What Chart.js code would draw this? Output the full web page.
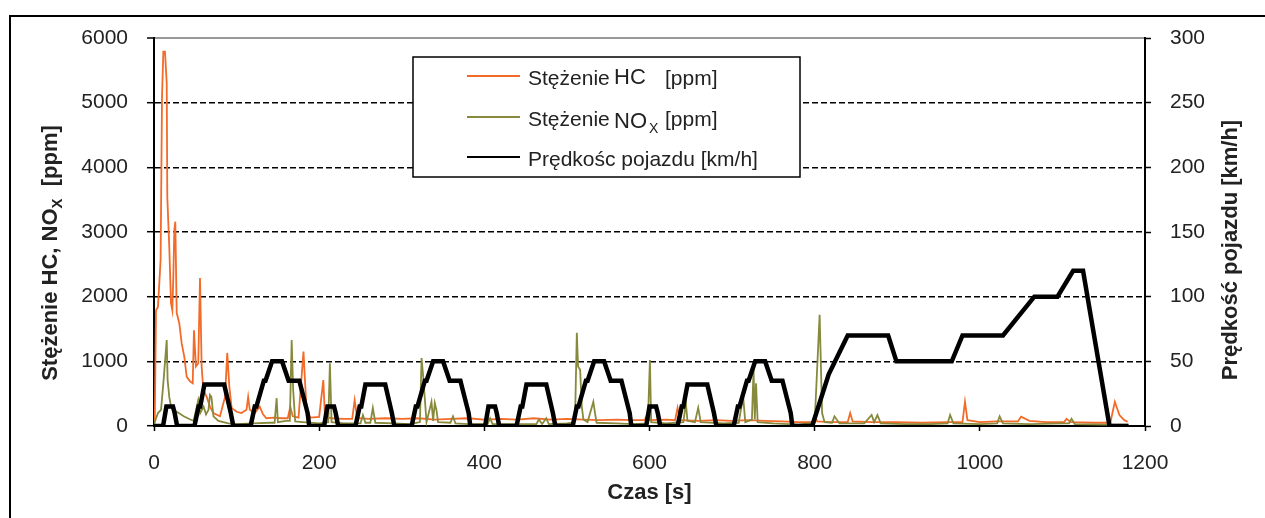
<!DOCTYPE html>
<html>
<head>
<meta charset="utf-8">
<script src="https://cdn.jsdelivr.net/npm/chart.js@4.4.0/dist/chart.umd.min.js"></script>
<style>
body { margin: 0; background: #fff; }
canvas { display: block; }
</style>
</head>
<body>
<canvas id="emissionsChart" width="1265" height="518"></canvas>
<script>
// Values (time in s)
const xTicks = [0, 200, 400, 600, 800, 1000, 1200];
const ppmTicks = [0, 1000, 2000, 3000, 4000, 5000, 6000];
const kmhTicks = [0, 50, 100, 150, 200, 250, 300];

const speedTime = [
    0, 11, 15, 23, 25, 28, 49, 54, 56, 61, 85, 93, 96, 117, 122, 124, 133, 135, 143, 155, 163, 176, 186, 188,
    195, 206, 210, 218, 220, 223, 244, 249, 251, 256, 280, 288, 291, 312, 317, 319, 328, 330, 338, 350, 358, 371, 381, 383,
    390, 401, 405, 413, 415, 418, 439, 444, 446, 451, 475, 483, 486, 507, 512, 514, 523, 525, 533, 545, 553, 566, 576, 578,
    585, 596, 600, 608, 610, 613, 634, 639, 641, 646, 670, 678, 681, 702, 707, 709, 718, 720, 728, 740, 748, 761, 771, 773,
    780, 797, 817, 840, 889, 899, 966, 979, 1028, 1066, 1094, 1113, 1125, 1157, 1180
];
const speedKmh = [
    0, 0, 15, 15, 10, 0, 0, 15, 15, 32, 32, 10, 0, 0, 15, 15, 35, 35, 50, 50, 35, 35, 10, 0,
    0, 0, 15, 15, 10, 0, 0, 15, 15, 32, 32, 10, 0, 0, 15, 15, 35, 35, 50, 50, 35, 35, 10, 0,
    0, 0, 15, 15, 10, 0, 0, 15, 15, 32, 32, 10, 0, 0, 15, 15, 35, 35, 50, 50, 35, 35, 10, 0,
    0, 0, 15, 15, 10, 0, 0, 15, 15, 32, 32, 10, 0, 0, 15, 15, 35, 35, 50, 50, 35, 35, 10, 0,
    0, 0, 40, 70, 70, 50, 50, 70, 70, 100, 100, 120, 120, 0, 0
];

const hcTime = [
    0, 1, 2.4, 4.8, 8, 9.7, 11.3, 13.3, 15.4, 16.1,
    18.5, 20.6, 22.2, 23.4, 24.6, 25.8, 27.5, 30.6, 33.5, 36.7,
    39.6, 43.6, 46.9, 48.4, 50.8, 53.6, 55.7, 57.7, 59.7, 63.8,
    67.8, 71.8, 79.9, 86, 88.7, 91.2, 94, 100, 106, 112,
    114, 116, 122, 128, 132, 136, 145, 155, 162, 165,
    168, 175, 181, 183, 185, 190, 200, 205, 207, 215,
    230, 240, 243, 246, 260, 280, 300, 320, 340, 360,
    380, 400, 420, 440, 460, 480, 500, 520, 540, 560,
    580, 594, 597, 600, 620, 631, 634, 637, 660, 680,
    700, 720, 740, 760, 780, 797, 800, 803, 820, 840,
    843, 846, 870, 900, 930, 960, 979, 982, 985, 1000,
    1020, 1046, 1050, 1060, 1080, 1102, 1105, 1110, 1140, 1158,
    1163.5, 1169, 1175, 1179
];
const hcPpm = [
    80, 150, 1790, 1840, 2570, 5090, 5790, 5790, 5300, 3540,
    2770, 1900, 1790, 2310, 3030, 3160, 1750, 1590, 1280, 1070,
    760, 690, 660, 1480, 920, 970, 2290, 920, 560, 450,
    300, 200, 150, 450, 1130, 610, 280, 220, 200, 250,
    450, 250, 200, 300, 180, 120, 130, 120, 120, 300,
    150, 130, 1150, 660, 200, 130, 140, 710, 150, 120,
    110, 110, 400, 120, 110, 120, 110, 120, 100, 110,
    120, 100, 110, 100, 120, 100, 110, 100, 90, 100,
    90, 90, 170, 90, 100, 90, 280, 90, 80, 90,
    80, 90, 80, 70, 60, 60, 170, 70, 60, 60,
    200, 70, 60, 60, 50, 60, 60, 375, 90, 60,
    70, 70, 145, 80, 60, 60, 110, 60, 50, 50,
    375, 170, 90, 65
];

const noxTime = [
    0, 2, 4.8, 8.5, 11.3, 15.4, 16.5, 18.5, 20.6, 23,
    30, 36, 44, 48, 53.6, 56, 60, 63, 66, 67.8,
    69.5, 72, 78, 90, 100, 120, 140, 146, 148.5, 150,
    160, 164.5, 166.7, 168.5, 171, 180, 200, 211, 213, 215,
    230, 250, 253, 256, 262, 265, 268, 290, 310, 322,
    324, 326, 330, 336, 338, 340, 342, 344, 359, 362,
    365, 380, 404, 407, 410, 440, 463, 466, 470, 475,
    478, 500, 508, 510, 512, 513.5, 516, 518, 520, 525,
    532, 534, 536, 560, 580, 598, 600.5, 602, 620, 641,
    644, 646, 655, 659, 662, 690, 708, 710, 713.4, 716,
    724, 726, 727.5, 729, 731, 750, 780, 800, 806, 809,
    812, 821, 824, 830, 860, 869, 872, 876, 880, 910,
    940, 961, 964, 968, 1000, 1021, 1024, 1028, 1060, 1100,
    1108, 1111, 1115, 1150, 1180
];
const noxPpm = [
    20, 100, 200, 250, 660, 1330, 710, 450, 300, 250,
    200, 150, 100, 80, 400, 200, 300, 180, 250, 480,
    450, 150, 80, 40, 30, 40, 50, 50, 430, 60,
    80, 80, 1330, 560, 70, 60, 40, 60, 970, 60,
    40, 40, 170, 50, 50, 280, 50, 40, 30, 60,
    1050, 760, 60, 375, 80, 355, 250, 60, 50, 150,
    40, 30, 30, 120, 30, 30, 30, 100, 30, 120,
    30, 40, 50, 200, 1440, 920, 870, 300, 100, 60,
    375, 200, 50, 40, 30, 40, 1020, 60, 40, 60,
    355, 80, 60, 280, 60, 40, 50, 200, 450, 60,
    100, 870, 100, 660, 60, 40, 20, 50, 1720, 200,
    60, 50, 150, 40, 40, 170, 60, 170, 40, 30,
    30, 40, 170, 40, 30, 40, 150, 40, 30, 40,
    40, 110, 30, 20, 20
];

const hcColor = '#F26B28';
const noxColor = '#878A3C';
const speedColor = '#000000';
const textColor = '#222222';
const fontFamily = '"Liberation Sans", Arial, sans-serif';

function toPoints(xs, ys) {
    return xs.map((x, i) => ({ x: x, y: ys[i] }));
}

// frame, legend and both rotated axis titles drawn by hand
const figureDecor = {
    id: 'figureDecor',
    beforeDraw(chart) {
        const ctx = chart.ctx;
        ctx.save();
        ctx.fillStyle = '#ffffff';
        ctx.fillRect(0, 0, chart.width, chart.height);
        ctx.restore();
    },
    afterDraw(chart) {
        const ctx = chart.ctx;
        ctx.save();
        ctx.strokeStyle = '#000';
        ctx.lineWidth = 2;
        ctx.beginPath();
        ctx.moveTo(10, chart.height);
        ctx.lineTo(10, 16);
        ctx.lineTo(chart.width, 16);
        ctx.stroke();

        // legend
        ctx.fillStyle = '#fff';
        ctx.fillRect(413, 57, 387, 120);
        ctx.lineWidth = 1.5;
        ctx.strokeRect(413, 57, 387, 120);
        const rows = [[hcColor, 76], [noxColor, 117], [speedColor, 157]];
        ctx.lineWidth = 2;
        rows.forEach(r => {
            ctx.strokeStyle = r[0];
            ctx.beginPath();
            ctx.moveTo(467, r[1]);
            ctx.lineTo(520, r[1]);
            ctx.stroke();
        });
        ctx.fillStyle = textColor;
        ctx.textBaseline = 'alphabetic';
        ctx.font = '21px ' + fontFamily;
        ctx.fillText('Stężenie', 528, 85);
        ctx.fillText('[ppm]', 665, 85);
        ctx.fillText('Stężenie', 528, 125.5);
        ctx.fillText('[ppm]', 665, 125.5);
        ctx.fillText('Prędkośc pojazdu [km/h]', 528, 165.5);
        ctx.font = '22px ' + fontFamily;
        ctx.fillText('HC', 614, 84);
        ctx.fillText('NO', 614, 127.5);
        ctx.font = '14px ' + fontFamily;
        ctx.fillText('X', 649, 133);

        // left axis title
        ctx.save();
        ctx.translate(57, 253);
        ctx.rotate(-Math.PI / 2);
        const mainFont = 'bold 22px ' + fontFamily;
        const subFont = 'bold 15px ' + fontFamily;
        ctx.font = mainFont;
        const w1 = ctx.measureText('Stężenie HC, NO').width;
        const w3 = ctx.measureText('  [ppm]').width;
        ctx.font = subFont;
        const w2 = ctx.measureText('X').width;
        const x0 = -(w1 + w2 + w3) / 2;
        ctx.font = mainFont;
        ctx.fillText('Stężenie HC, NO', x0, 0);
        ctx.font = subFont;
        ctx.fillText('X', x0 + w1, 5);
        ctx.font = mainFont;
        ctx.fillText('  [ppm]', x0 + w1 + w2, 0);
        ctx.restore();

        // right axis title, reading bottom to top
        ctx.save();
        ctx.translate(1237, 250);
        ctx.rotate(-Math.PI / 2);
        ctx.font = mainFont;
        ctx.textAlign = 'center';
        ctx.fillText('Prędkość pojazdu [km/h]', 0, 0);
        ctx.restore();
        ctx.restore();
    }
};

Chart.defaults.font.family = fontFamily;
Chart.defaults.color = textColor;

const plainLabel = v => String(v);

new Chart(document.getElementById('emissionsChart'), {
    type: 'line',
    data: {
        datasets: [{
            label: 'Prędkośc pojazdu [km/h]',
            data: toPoints(speedTime, speedKmh),
            yAxisID: 'y1',
            borderColor: speedColor,
            borderWidth: 4.5,
            pointRadius: 0,
            tension: 0
        }, {
            label: 'Stężenie NOx [ppm]',
            data: toPoints(noxTime, noxPpm),
            yAxisID: 'y',
            borderColor: noxColor,
            borderWidth: 1.8,
            pointRadius: 0,
            tension: 0
        }, {
            label: 'Stężenie HC [ppm]',
            data: toPoints(hcTime, hcPpm),
            yAxisID: 'y',
            borderColor: hcColor,
            borderWidth: 1.8,
            pointRadius: 0,
            tension: 0
        }]
    },
    options: {
        responsive: false,
        animation: false,
        layout: { padding: { top: 38, left: 0, right: 0, bottom: 0 } },
        plugins: {
            legend: { display: false },
            tooltip: { enabled: false }
        },
        scales: {
            x: {
                type: 'linear',
                min: 0,
                max: 1200,
                afterBuildTicks: s => { s.ticks = xTicks.map(v => ({ value: v })); },
                afterFit: s => { s.height = 92; },
                grid: { drawOnChartArea: false, tickLength: 5, tickColor: '#000', tickWidth: 1.5 },
                border: { color: '#000', width: 2 },
                ticks: { font: { size: 21 }, padding: 20, maxRotation: 0, callback: plainLabel },
                title: {
                    display: true,
                    text: 'Czas [s]',
                    font: { size: 22, weight: 'bold' },
                    padding: { top: 0, bottom: 12 }
                }
            },
            y: {
                position: 'left',
                min: 0,
                max: 6000,
                afterBuildTicks: s => { s.ticks = ppmTicks.map(v => ({ value: v })); },
                afterFit: s => { s.width = 154; },
                grid: {
                    color: c => (c.tick && c.tick.value === 6000 ? '#999999' : '#000000'),
                    lineWidth: c => (c.tick && c.tick.value === 6000 ? 2 : 1.4),
                    tickLength: 7,
                    tickColor: '#000',
                    tickWidth: 1.5
                },
                border: {
                    color: '#000',
                    width: 2,
                    dash: c => (c.tick && c.tick.value === 6000 ? [] : [6, 3])
                },
                ticks: { font: { size: 21 }, padding: 19, callback: plainLabel }
            },
            y1: {
                position: 'right',
                min: 0,
                max: 300,
                afterBuildTicks: s => { s.ticks = kmhTicks.map(v => ({ value: v })); },
                afterFit: s => { s.width = 120; },
                grid: { drawOnChartArea: false, tickLength: 6, tickColor: '#000', tickWidth: 1.5 },
                border: { color: '#000', width: 2 },
                ticks: { font: { size: 21 }, padding: 19, callback: plainLabel }
            }
        }
    },
    plugins: [figureDecor]
});
</script>
</body>
</html>
